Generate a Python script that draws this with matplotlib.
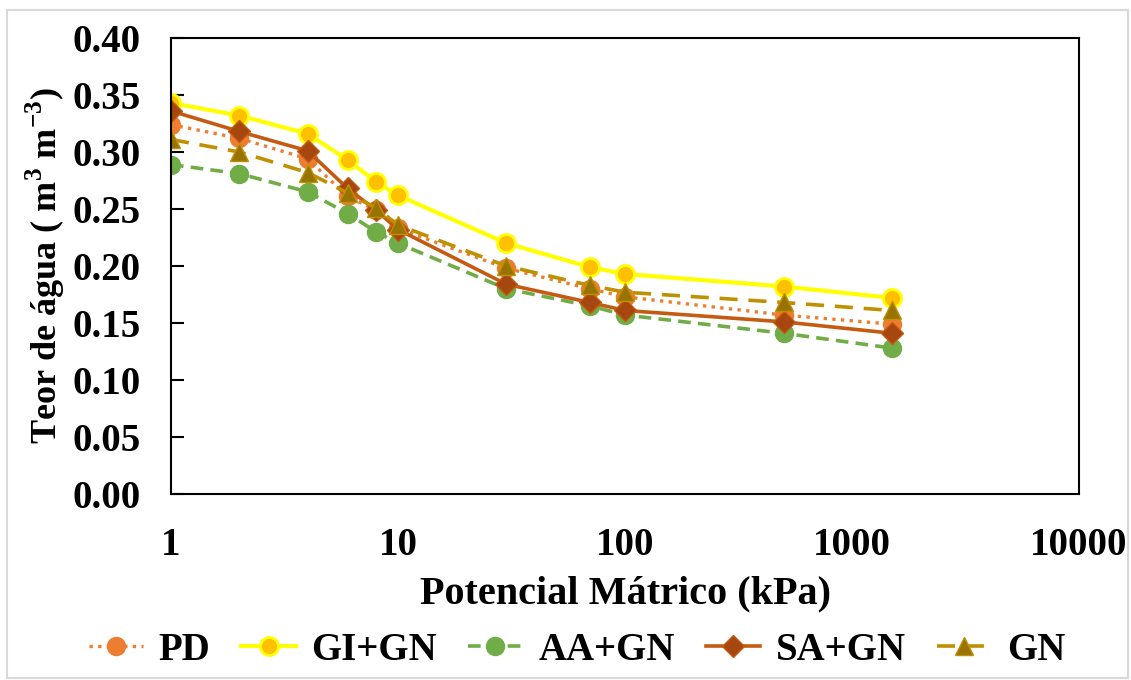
import matplotlib
matplotlib.use("Agg")
import matplotlib.pyplot as plt
from matplotlib.patches import Rectangle

# water retention data (matric potential in kPa vs volumetric water content)
potential = [1, 2, 4, 6, 8, 10, 30, 70, 100, 500, 1500]
pd_vals = [0.324, 0.312, 0.294, 0.261, 0.249, 0.233, 0.198, 0.180, 0.173, 0.157, 0.149]
gi_gn = [0.343, 0.332, 0.316, 0.293, 0.274, 0.262, 0.220, 0.199, 0.193, 0.182, 0.172]
aa_gn = [0.289, 0.281, 0.265, 0.246, 0.230, 0.220, 0.180, 0.165, 0.157, 0.141, 0.128]
sa_gn = [0.336, 0.318, 0.301, 0.268, 0.249, 0.232, 0.184, 0.168, 0.161, 0.151, 0.141]
gn = [0.311, 0.300, 0.282, 0.264, 0.251, 0.236, 0.200, 0.183, 0.177, 0.168, 0.161]

plt.rcParams['font.family'] = ['Liberation Serif', 'DejaVu Serif']
plt.rcParams['font.weight'] = 'bold'
plt.rcParams['mathtext.fontset'] = 'custom'
plt.rcParams['mathtext.rm'] = 'Liberation Serif:bold'
plt.rcParams['mathtext.bf'] = 'Liberation Serif:bold'

fig = plt.figure(figsize=(11.31, 6.8), dpi=100)
ax = fig.add_axes([171 / 1131, 1 - 494 / 680, (1079 - 171) / 1131, (494 - 38) / 680])

# light frame around the whole chart
fig.patches.append(Rectangle((7 / 1131, 0.003), 1 - 7 / 1131 - 0.003, 1 - 10 / 680 - 0.003,
                             transform=fig.transFigure, fill=False,
                             edgecolor='#d9d9d9', linewidth=1.5))

ms = 13
ax.plot(potential, pd_vals, linestyle=(0, (1, 1.6)), color='#ED7D31', lw=2.4,
        marker='o', ms=ms, mfc='#ED7D31', mec='#ED7D31', label='PD')
ax.plot(potential, gi_gn, linestyle='-', color='#FFFF00', lw=3,
        marker='o', ms=ms, mfc='#FFC000', mec='#FFFF00', mew=2, label='GI+GN')
ax.plot(potential, aa_gn, linestyle=(0, (3.5, 2)), color='#70AD47', lw=2.6,
        marker='o', ms=ms, mfc='#70AD47', mec='#70AD47', label='AA+GN')
ax.plot(potential, sa_gn, linestyle='-', color='#C55A11', lw=2.6,
        marker='D', ms=11, mfc='#A5470E', mec='#C55A11', label='SA+GN')
ax.plot(potential, gn, linestyle=(0, (5, 3)), color='#BF9000', lw=2.6,
        marker='^', ms=ms, mfc='#997300', mec='#BF9000', label='GN')

ax.set_xscale('log')
ax.set_xlim(1, 10000)
ax.set_ylim(0, 0.40)
ax.set_yticks([i * 0.05 for i in range(9)])
ax.set_yticklabels([f"{i * 0.05:.2f}" for i in range(9)])
ax.set_xticks([1, 10, 100, 1000, 10000])
ax.set_xticklabels(['1', '10', '100', '1000', '10000'])
ax.minorticks_off()
ax.tick_params(axis='y', direction='in', length=9, width=1.5, labelsize=28, pad=22)
ax.tick_params(axis='x', length=0, labelsize=28, pad=24)
for s in ax.spines.values():
    s.set_linewidth(1.5)

ax.set_xlabel('Potencial Mátrico (kPa)', fontsize=29, fontweight='bold', labelpad=8)
ax.set_ylabel('Teor de água ( m$^{3}$ m$^{-3}$)', fontsize=26,
              fontweight='bold', labelpad=4)

fig.legend(loc='lower center', bbox_to_anchor=(0.51, -0.035), ncol=5, frameon=False,
           fontsize=28, handlelength=1.4, handletextpad=0.4, columnspacing=0.8)

fig.savefig('out.png', dpi=100)
